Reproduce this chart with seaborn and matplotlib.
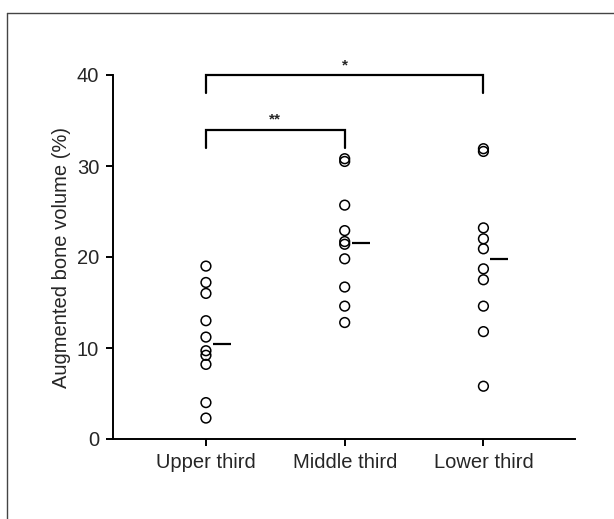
import numpy as np
import pandas as pd
import matplotlib
matplotlib.use("Agg")
import matplotlib.pyplot as plt
import seaborn as sns
from matplotlib.lines import Line2D

categories = ["Upper third", "Middle third", "Lower third"]
upper = [19.0, 17.2, 16.0, 13.0, 11.2, 9.7, 9.2, 8.2, 4.0, 2.3]
middle = [30.8, 30.5, 25.7, 22.9, 21.7, 21.4, 19.8, 16.7, 14.6, 12.8]
lower = [31.9, 31.6, 23.2, 22.0, 20.9, 18.7, 17.5, 14.6, 11.8, 5.8]
yticks = [0, 10, 20, 30, 40]
brackets = [("Upper third", "Middle third", 34.0, "**"),
            ("Upper third", "Lower third", 40.0, "*")]

df = pd.DataFrame({
    "group": [categories[0]] * len(upper) + [categories[1]] * len(middle) + [categories[2]] * len(lower),
    "value": upper + middle + lower,
})

sns.set_style("ticks")
plt.rcParams["font.family"] = ["Liberation Sans", "DejaVu Sans"]

fig = plt.figure(figsize=(6.14, 5.19), dpi=100)
ax = fig.add_axes([113 / 614, 1 - 439 / 519, 462 / 614, 364 / 519])

sns.stripplot(data=df, x="group", y="value", order=categories, jitter=False,
              color="white", edgecolor="black", linewidth=1.1, size=7, ax=ax, zorder=3)
for c in ax.collections:
    c.set_facecolor("none")

for i, vals in enumerate([upper, middle, lower]):
    ax.hlines(np.median(vals), i + 0.05, i + 0.18, color="black", lw=1.6)

for a, b, y, txt in brackets:
    xa, xb = categories.index(a), categories.index(b)
    ax.plot([xa, xa, xb, xb], [y - 2.0, y, y, y - 2.0], color="black", lw=1.6,
            clip_on=False, solid_joinstyle="miter")
    ax.text((xa + xb) / 2, y + 0.3, txt, ha="center", va="bottom", fontsize=11,
            fontweight="bold")

ax.set_xlim(-0.67, 2.66)
ax.set_ylim(0, 40)
ax.set_yticks(yticks)
ax.set_xlabel("")
ax.set_ylabel("Augmented bone volume (%)", fontsize=14.5, labelpad=4)
ax.tick_params(axis="both", labelsize=14.5, width=1.4, length=5, pad=5, color="black")
for s in ["top", "right"]:
    ax.spines[s].set_visible(False)
for s in ["left", "bottom"]:
    ax.spines[s].set_linewidth(1.4)
    ax.spines[s].set_color("black")

fig.add_artist(Line2D([7 / 614, 1.0], [1 - 13 / 519, 1 - 13 / 519], color="#444444", lw=1.0))
fig.add_artist(Line2D([7 / 614, 7 / 614], [0, 1 - 13 / 519], color="#444444", lw=1.0))

fig.savefig("out.png", dpi=100)
